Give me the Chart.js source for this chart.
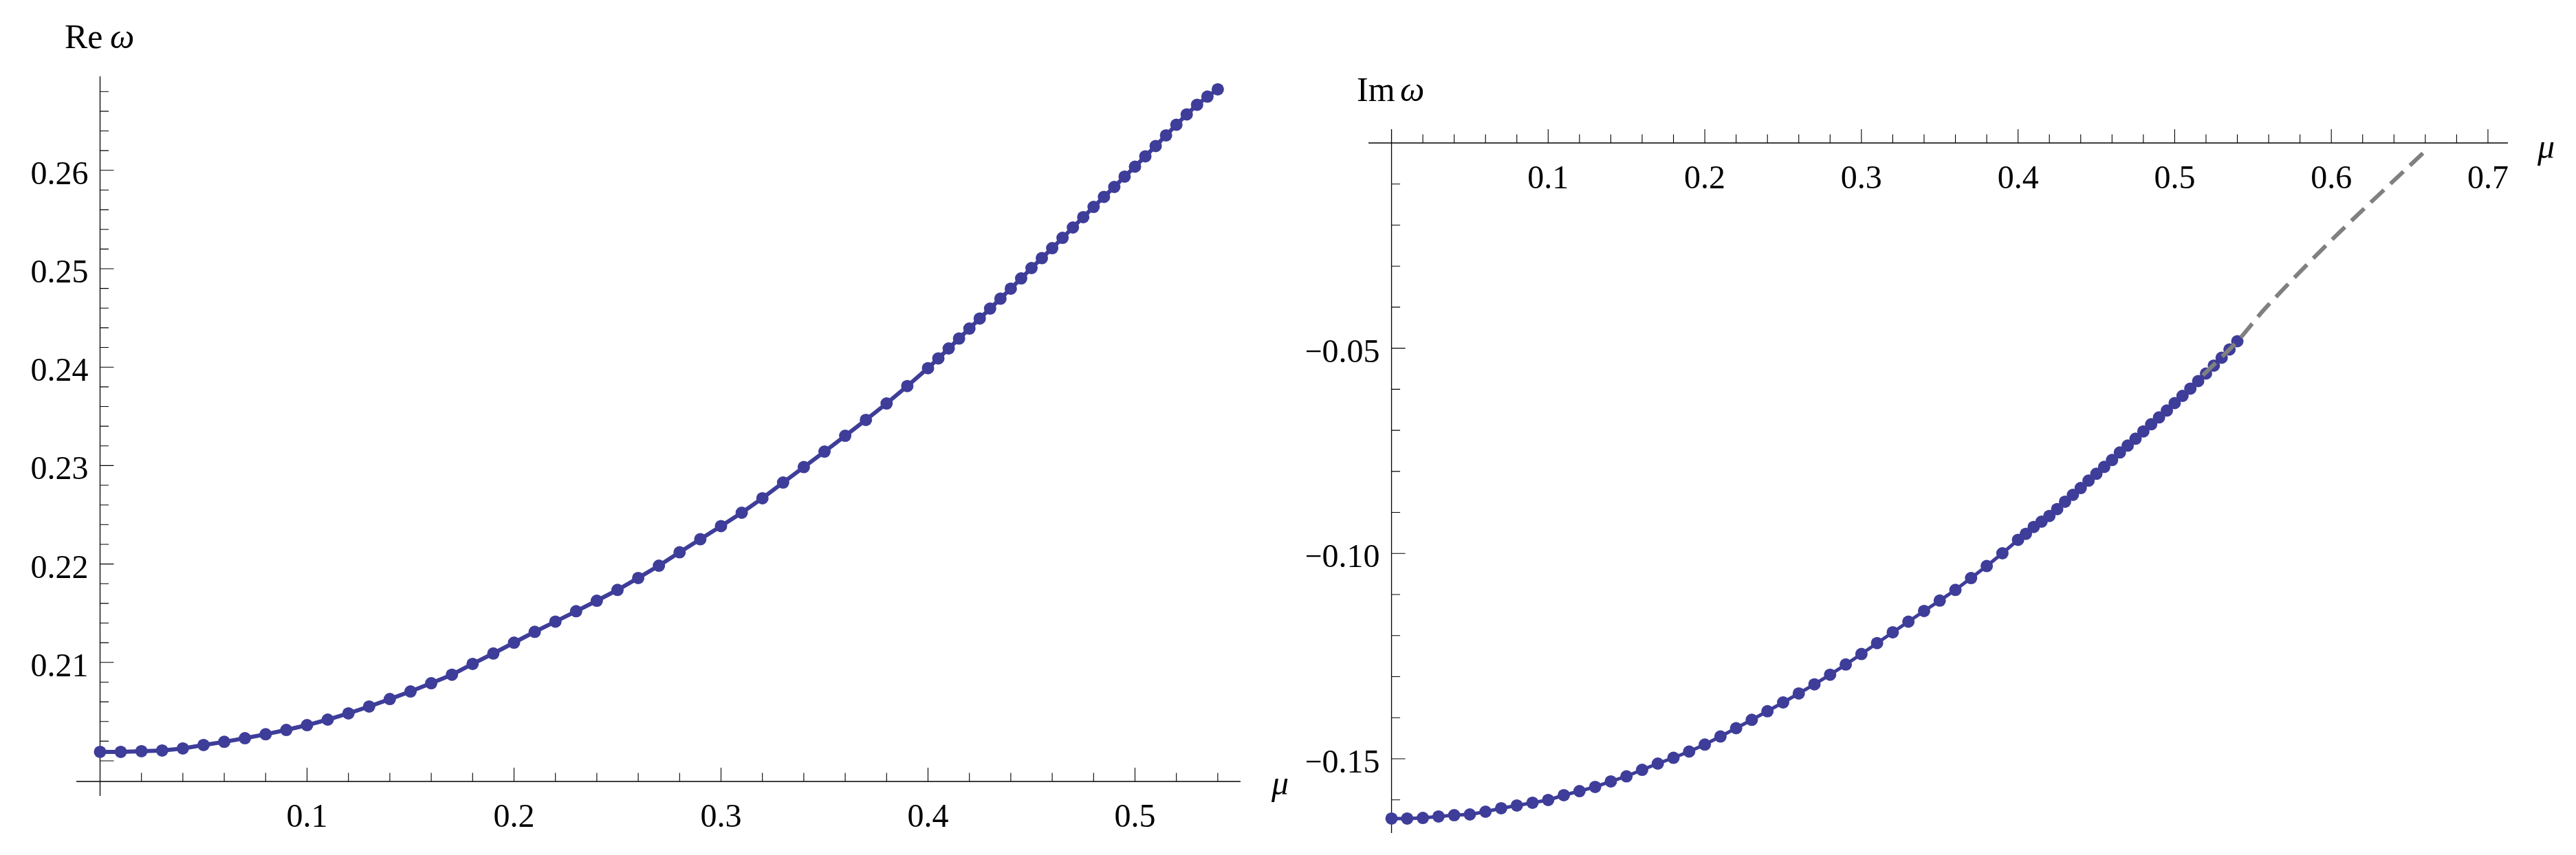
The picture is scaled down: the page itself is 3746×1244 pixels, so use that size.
<!DOCTYPE html>
<html>
<head>
<meta charset="utf-8">
<script src="https://cdn.jsdelivr.net/npm/chart.js@4.4.1/dist/chart.umd.min.js"></script>
<style>
  html, body { margin: 0; padding: 0; background: #fff; }
  body { width: 3746px; height: 1244px; position: relative; overflow: hidden; }
  canvas { position: absolute; top: 0; }
  #reChart { left: 0; }
  #imChart { left: 1900px; }
  .fontwarm { position: absolute; left: -9999px; top: 0; font-family: "Liberation Serif"; font-size: 48px; }
</style>
</head>
<body>
<span class="fontwarm">0.123456789 Re Im <i>ω μ</i> −</span>
<canvas id="reChart" width="1900" height="1244"></canvas>
<canvas id="imChart" width="1846" height="1244"></canvas>
<script>
// mu grid (0.01 steps up to 0.40, then 0.005)
const muValues = [
  0, 0.01, 0.02, 0.03, 0.04, 0.05, 0.06, 0.07, 0.08, 0.09,
  0.10, 0.11, 0.12, 0.13, 0.14, 0.15, 0.16, 0.17, 0.18, 0.19,
  0.20, 0.21, 0.22, 0.23, 0.24, 0.25, 0.26, 0.27, 0.28, 0.29,
  0.30, 0.31, 0.32, 0.33, 0.34, 0.35, 0.36, 0.37, 0.38, 0.39,
  0.40, 0.405, 0.41, 0.415, 0.42, 0.425, 0.43, 0.435, 0.44, 0.445,
  0.45, 0.455, 0.46, 0.465, 0.47, 0.475, 0.48, 0.485, 0.49, 0.495,
  0.50, 0.505, 0.51, 0.515, 0.52, 0.525, 0.53, 0.535, 0.54
];

// Re omega
const reOmega = [
  0.20091, 0.20091, 0.20098, 0.20105, 0.20126, 0.20161, 0.20193, 0.20230, 0.20270, 0.20314,
  0.20363, 0.20419, 0.20482, 0.20552, 0.20628, 0.20705, 0.20789, 0.20875, 0.20985, 0.21091,
  0.21201, 0.21311, 0.21415, 0.21520, 0.21627, 0.21737, 0.21858, 0.21983, 0.22119, 0.22252,
  0.22385, 0.22521, 0.22668, 0.22828, 0.22985, 0.23142, 0.23303, 0.23464, 0.23631, 0.23808,
  0.23990, 0.24089, 0.24190, 0.24291, 0.24392, 0.24494, 0.24595, 0.24696, 0.24798, 0.24902,
  0.25007, 0.25108, 0.25209, 0.25314, 0.25419, 0.25524, 0.25628, 0.25730, 0.25831, 0.25936,
  0.26037, 0.26142, 0.26247, 0.26355, 0.26463, 0.26568, 0.26666, 0.26749, 0.26823
];

// Im omega
const imOmega = [
  -0.16457, -0.16457, -0.16441, -0.16407, -0.16374, -0.16357, -0.16290, -0.16206, -0.16139, -0.16072,
  -0.16005, -0.15888, -0.15788, -0.15687, -0.15553, -0.15428, -0.15269, -0.15118, -0.14976, -0.14825,
  -0.14654, -0.14457, -0.14256, -0.14052, -0.13842, -0.13628, -0.13410, -0.13188, -0.12953, -0.12704,
  -0.12448, -0.12183, -0.11920, -0.11661, -0.11401, -0.11147, -0.10887, -0.10598, -0.10305, -0.09995,
  -0.09668, -0.09521, -0.09354, -0.09225, -0.09086, -0.08918, -0.08739, -0.08572, -0.08405, -0.08226,
  -0.08058, -0.07891, -0.07723, -0.07539, -0.07372, -0.07204, -0.07027, -0.06852, -0.06685, -0.06518,
  -0.06337, -0.06161, -0.05985, -0.05801, -0.05617, -0.05424, -0.05232, -0.05031, -0.04830
];

// dashed extrapolation on the Im panel
const fitMu = [0.518, 0.54, 0.558, 0.60, 0.659];
const fitIm = [-0.0566, -0.0483, -0.0402, -0.0237, -0.0023];

// ticks
const reXTicks = [0.1, 0.2, 0.3, 0.4, 0.5];
const reXTickLabels = ['0.1', '0.2', '0.3', '0.4', '0.5'];
const reYTicks = [0.20, 0.21, 0.22, 0.23, 0.24, 0.25, 0.26];
const reYTickLabels = ['', '0.21', '0.22', '0.23', '0.24', '0.25', '0.26'];
const imXTicks = [0.1, 0.2, 0.3, 0.4, 0.5, 0.6, 0.7];
const imXTickLabels = ['0.1', '0.2', '0.3', '0.4', '0.5', '0.6', '0.7'];
const imYTicks = [-0.05, -0.10, -0.15];
const imYTickLabels = ['\u22120.05', '\u22120.10', '\u22120.15'];

const blue = 'rgb(62,61,153)';
const serif = '"Liberation Serif", "Times New Roman", "DejaVu Serif", serif';
const tickFont = '48px ' + serif;

// minor ticks: every step, skipping the ones that sit on a major tick
function minorTicks(from, to, step, every) {
  const out = [];
  for (let i = from; i <= to; i++) {
    if (i % every !== 0) out.push(i * step);
  }
  return out;
}

// Mathematica-like crossing axes, ticks pointing into the plot
function axesPlugin(cfg) {
  return {
    id: 'mmaAxes',
    beforeDatasetsDraw(chart) {
      const ctx = chart.ctx;
      const xs = chart.scales.x, ys = chart.scales.y;
      const area = chart.chartArea;
      const axY = ys.getPixelForValue(cfg.xAxisAt);
      const axX = xs.getPixelForValue(0);

      ctx.save();
      ctx.strokeStyle = '#000';
      ctx.lineWidth = 1.3;
      ctx.beginPath();
      ctx.moveTo(area.left, axY); ctx.lineTo(area.right, axY);
      ctx.moveTo(axX, area.top); ctx.lineTo(axX, area.bottom);
      ctx.stroke();

      ctx.lineWidth = 1.1;
      ctx.beginPath();
      cfg.xMajor.forEach(v => {
        const p = xs.getPixelForValue(v);
        ctx.moveTo(p, axY); ctx.lineTo(p, axY - 20);
      });
      cfg.xMinor.forEach(v => {
        const p = xs.getPixelForValue(v);
        ctx.moveTo(p, axY); ctx.lineTo(p, axY - 12.5);
      });
      cfg.yMajor.forEach(v => {
        const p = ys.getPixelForValue(v);
        ctx.moveTo(axX, p); ctx.lineTo(axX + 20, p);
      });
      cfg.yMinor.forEach(v => {
        const p = ys.getPixelForValue(v);
        ctx.moveTo(axX, p); ctx.lineTo(axX + 12.5, p);
      });
      ctx.stroke();

      ctx.fillStyle = '#000';
      ctx.font = tickFont;
      ctx.textBaseline = 'alphabetic';
      ctx.textAlign = 'center';
      cfg.xMajor.forEach((v, i) => {
        ctx.fillText(cfg.xLabels[i], xs.getPixelForValue(v), axY + 66);
      });
      ctx.textAlign = 'right';
      cfg.yMajor.forEach((v, i) => {
        if (cfg.yLabels[i]) ctx.fillText(cfg.yLabels[i], axX - 17, ys.getPixelForValue(v) + 20);
      });

      // axis names
      ctx.textAlign = 'left';
      ctx.font = '50px ' + serif;
      ctx.fillText(cfg.yName, cfg.yNamePos[0], cfg.yNamePos[1]);
      ctx.font = 'italic 50px ' + serif;
      ctx.fillText('\u03c9', cfg.yNamePos[2], cfg.yNamePos[1]);
      ctx.fillText('\u03bc', cfg.xNamePos[0], cfg.xNamePos[1]);
      ctx.restore();
    }
  };
}

const baseOptions = (pad, xr, yr) => ({
  responsive: false,
  animation: false,
  devicePixelRatio: 1,
  events: [],
  layout: { padding: pad },
  plugins: { legend: { display: false }, tooltip: { enabled: false } },
  scales: {
    x: { type: 'linear', display: false, min: xr[0], max: xr[1] },
    y: { type: 'linear', display: false, min: yr[0], max: yr[1] }
  }
});

function drawCharts() {
  new Chart(document.getElementById('reChart'), {
    type: 'line',
    data: {
      datasets: [{
        data: muValues.map((m, i) => ({ x: m, y: reOmega[i] })),
        borderColor: blue,
        backgroundColor: blue,
        borderWidth: 6,
        pointRadius: 9,
        pointBorderWidth: 0,
        pointBackgroundColor: blue,
        tension: 0,
        clip: false
      }]
    },
    options: baseOptions({ left: 111, right: 96, top: 111, bottom: 86 }, [-0.01146, 0.551], [0.196439, 0.269553]),
    plugins: [axesPlugin({
      xAxisAt: 0.197905,
      xMajor: reXTicks, xLabels: reXTickLabels, xMinor: minorTicks(1, 27, 0.02, 5),
      yMajor: reYTicks, yLabels: reYTickLabels, yMinor: minorTicks(100, 134, 0.002, 5),
      yName: 'Re', yNamePos: [94, 70, 160],
      xNamePos: [1849, 1156]
    })]
  });

  new Chart(document.getElementById('imChart'), {
    type: 'line',
    data: {
      datasets: [{
        data: fitMu.map((m, i) => ({ x: m, y: fitIm[i] })),
        borderColor: 'rgb(128,128,128)',
        borderWidth: 6,
        borderDash: [26, 13],
        pointRadius: 0,
        tension: 0.3,
        order: 0,
        clip: false
      }, {
        data: muValues.map((m, i) => ({ x: m, y: imOmega[i] })),
        borderColor: blue,
        backgroundColor: blue,
        borderWidth: 5,
        pointRadius: 9,
        pointBorderWidth: 0,
        pointBackgroundColor: blue,
        tension: 0,
        order: 1,
        clip: false
      }]
    },
    options: baseOptions({ left: 90, right: 99, top: 188, bottom: 32 }, [-0.01473, 0.71275], [-0.16809, 0.003348]),
    plugins: [axesPlugin({
      xAxisAt: 0,
      xMajor: imXTicks, xLabels: imXTickLabels, xMinor: minorTicks(1, 35, 0.02, 5),
      yMajor: imYTicks, yLabels: imYTickLabels, yMinor: minorTicks(-16, -1, 0.01, 5),
      yName: 'Im', yNamePos: [73, 147, 136],
      xNamePos: [1790, 230]
    })]
  });
}

Promise.all([
  document.fonts.load('48px "Liberation Serif"'),
  document.fonts.load('italic 50px "Liberation Serif"')
]).catch(() => {}).then(drawCharts);
</script>
</body>
</html>
